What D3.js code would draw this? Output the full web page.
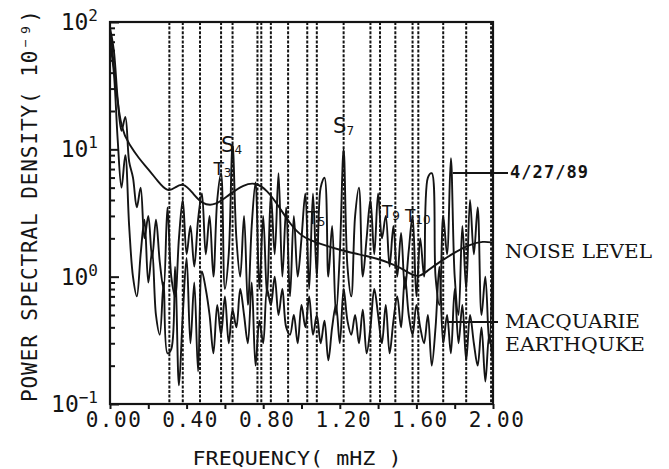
<!DOCTYPE html>
<html>
<head>
<meta charset="utf-8">
<script src="https://cdn.jsdelivr.net/npm/d3@7"></script>
<style>
  body { margin: 0; background: #fff; }
  svg { display: block; }
</style>
</head>
<body>
<svg></svg>
<script>
// Chart size
const W = 669, H = 469;

// Frequencies (mHz), sampled every 0.02
const freq = d3.range(0, 101).map(i => +(i * 0.02).toFixed(2));

// 4/27/89 spectrum
const event = [
    90, 60, 25, 14, 18, 8, 6, 3.5, 5, 2.0,
    3.0, 1.4, 2.8, 1.3, 0.8, 3.5, 1.0, 0.7, 2.0, 4.0,
    1.5, 2.5, 1.2, 2.8, 4.5, 1.5, 3.0, 1.0, 4.0, 6.5,
    0.8, 1.5, 11, 2.0, 1.0, 3.0, 0.6, 2.5, 5.5, 0.8,
    3.0, 0.7, 4.5, 1.5, 6.5, 1.0, 3.5, 0.7, 3.0, 1.0,
    2.0, 4.5, 0.8, 4.5, 1.0, 5.0, 6.0, 1.0, 2.5, 0.5,
    1.5, 10, 1.2, 0.7, 3.0, 5.0, 1.0, 2.0, 4.0, 1.5,
    4.5, 2.0, 3.0, 1.2, 2.5, 1.0, 2.2, 0.8, 1.6, 3.0,
    0.7, 2.0, 1.0, 6.0, 6.5, 1.0, 0.6, 3.0, 1.5, 8.5,
    1.0, 0.5, 2.5, 0.8, 4.0, 1.5, 3.5, 0.5, 1.0, 0.3,
    2.0
];

// Macquarie earthquake spectrum
const macquarie = [
    70, 40, 12, 5, 9, 2.5, 1.0, 0.7, 1.5, 2.8,
    0.9, 1.6, 0.5, 0.35, 0.9, 0.25, 0.27, 1.2, 0.14, 0.5,
    1.4, 0.3, 0.9, 0.18, 1.1, 0.8, 0.5, 0.25, 0.6, 0.35,
    0.7, 0.3, 0.55, 0.4, 0.8, 0.5, 0.3, 0.9, 0.2, 0.45,
    0.3, 0.8, 0.6, 1.0, 0.5, 0.8, 0.4, 0.35, 0.5, 0.3,
    0.6, 0.4, 0.7, 0.35, 0.5, 0.3, 0.45, 0.22, 0.4, 0.6,
    0.3, 0.8, 0.45, 0.35, 0.5, 0.3, 0.55, 0.25, 0.4, 0.8,
    0.5, 0.3, 0.6, 0.25, 0.45, 0.7, 0.4, 1.0, 0.5, 0.35,
    0.6, 0.4, 0.3, 0.5, 0.2, 0.4, 1.2, 0.3, 0.5, 0.25,
    0.8, 0.3, 0.6, 0.22, 0.5, 0.3, 0.2, 0.4, 0.15, 0.35,
    0.2
];

// Noise level curve
const noiseFreq = [0.005, 0.03, 0.06, 0.10, 0.15, 0.20, 0.25, 0.30, 0.34, 0.38,
    0.43, 0.48, 0.55, 0.62, 0.70, 0.76, 0.82, 0.88, 0.94, 1.00,
    1.10, 1.20, 1.30, 1.40, 1.46, 1.52, 1.58, 1.62, 1.66, 1.72,
    1.80, 1.88, 1.95, 2.00];
const noise = [80, 30, 14, 11, 8.5, 7.0, 5.6, 4.6, 5.0, 5.5,
    4.6, 3.7, 3.6, 4.4, 5.3, 5.5, 4.8, 3.6, 2.6, 2.05,
    1.8, 1.62, 1.5, 1.38, 1.28, 1.17, 1.02, 1.0, 1.12, 1.3,
    1.55, 1.8, 1.9, 1.85];

// Normal mode frequencies (dashed lines)
const modes = [0.31, 0.38, 0.47, 0.58, 0.64, 0.77, 0.79, 0.84, 0.93, 1.03,
    1.08, 1.22, 1.36, 1.41, 1.49, 1.58, 1.61, 1.74, 1.86, 1.99];

// Mode labels
const modeName = ["T", "S", "T", "S", "T", "T"];
const modeOrder = ["3", "4", "5", "7", "9", "10"];
const modeLabelFreq = [0.54, 0.58, 1.03, 1.165, 1.42, 1.54];
const modeLabelValue = [6.3, 9.5, 2.6, 13.4, 2.9, 2.7];

// Axis ticks
const xTickLabels = ["0.00", "0.40", "0.80", "1.20", "1.60", "2.00"];
const yExp = ["2", "1", "0", "-1"];

const margin = { top: 22, right: 176, bottom: 65, left: 110 };

const svg = d3.select("svg").attr("width", W).attr("height", H);

const x = d3.scaleLinear().domain([0, 2]).range([margin.left, W - margin.right]);
const y = d3.scaleLog().domain([0.1, 100]).range([H - margin.bottom, margin.top]);

const ink = "#141414";

svg.append("defs").append("clipPath").attr("id", "clip")
    .append("rect")
    .attr("x", x(0)).attr("y", y(100))
    .attr("width", x(2) - x(0)).attr("height", y(0.1) - y(100));

// Dashed mode lines
svg.append("g")
    .selectAll("line")
    .data(modes)
    .enter().append("line")
    .attr("x1", d => x(d)).attr("x2", d => x(d))
    .attr("y1", y(100)).attr("y2", y(0.1))
    .attr("stroke", ink)
    .attr("stroke-width", 2)
    .attr("stroke-dasharray", "3,1.6");

// Spectra
const line = d3.line()
    .x(d => x(d[0]))
    .y(d => y(d[1]))
    .curve(d3.curveCatmullRom.alpha(0.5));

const plot = svg.append("g").attr("clip-path", "url(#clip)");

plot.append("path")
    .datum(d3.zip(freq, macquarie))
    .attr("d", line)
    .attr("fill", "none")
    .attr("stroke", ink)
    .attr("stroke-width", 1.9);

plot.append("path")
    .datum(d3.zip(freq, event))
    .attr("d", line)
    .attr("fill", "none")
    .attr("stroke", ink)
    .attr("stroke-width", 1.9);

plot.append("path")
    .datum(d3.zip(noiseFreq, noise))
    .attr("d", d3.line().x(d => x(d[0])).y(d => y(d[1])).curve(d3.curveBasis))
    .attr("fill", "none")
    .attr("stroke", ink)
    .attr("stroke-width", 1.9);

// Frame
svg.append("rect")
    .attr("x", x(0)).attr("y", y(100))
    .attr("width", x(2) - x(0)).attr("height", y(0.1) - y(100))
    .attr("fill", "none")
    .attr("stroke", ink)
    .attr("stroke-width", 2.2);

// Y-axis ticks (inward)
const yAxis = d3.axisRight(y)
    .tickValues(d3.range(-1, 2).flatMap(e => d3.range(1, 10).map(m => m * Math.pow(10, e))).concat([100]))
    .tickSize(5)
    .tickFormat("");
const gy = svg.append("g")
    .attr("transform", "translate(" + x(0) + ",0)")
    .call(yAxis);
gy.select(".domain").remove();
gy.selectAll(".tick line")
    .attr("stroke", ink)
    .attr("stroke-width", 2)
    .attr("x2", d => Math.abs(Math.log10(d) - Math.round(Math.log10(d))) < 1e-9 ? 9 : 5);

// Y tick labels
const yLab = svg.append("g")
    .selectAll("text")
    .data(yExp)
    .enter().append("text")
    .attr("x", 98)
    .attr("y", d => y(Math.pow(10, +d)) + 8)
    .attr("text-anchor", "end")
    .attr("font-family", "DejaVu Sans Mono")
    .attr("font-size", 23)
    .attr("fill", ink);
yLab.append("tspan").text("10");
yLab.append("tspan")
    .attr("dy", -9)
    .attr("font-size", 16)
    .text(d => d.replace("-", "\u2212"));

// X-axis ticks (between labels)
const xAxis = d3.axisBottom(x)
    .tickValues(d3.range(0, 11).map(i => i * 0.2))
    .tickSize(5)
    .tickFormat("");
const gx = svg.append("g")
    .attr("transform", "translate(0," + y(0.1) + ")")
    .call(xAxis);
gx.select(".domain").remove();
gx.selectAll(".tick line").attr("stroke", ink).attr("stroke-width", 2);

// X tick labels
svg.append("g")
    .selectAll("text")
    .data(xTickLabels)
    .enter().append("text")
    .attr("x", d => x(+d) + 4)
    .attr("y", y(0.1) + 23)
    .attr("text-anchor", "middle")
    .attr("font-family", "DejaVu Sans Mono")
    .attr("font-size", 21)
    .attr("letter-spacing", 1.5)
    .attr("fill", ink)
    .text(d => d);

// Axis titles
svg.append("text")
    .attr("transform", "translate(37,206) rotate(-90)")
    .attr("text-anchor", "middle")
    .attr("font-family", "DejaVu Sans Mono")
    .attr("font-size", 21)
    .attr("fill", ink)
    .attr("textLength", 392)
    .attr("lengthAdjust", "spacing")
    .text("POWER SPECTRAL DENSITY( 10\u207B\u2079)");

svg.append("text")
    .attr("x", 297)
    .attr("y", 465)
    .attr("text-anchor", "middle")
    .attr("font-family", "DejaVu Sans Mono")
    .attr("font-size", 20)
    .attr("fill", ink)
    .attr("textLength", 209)
    .attr("lengthAdjust", "spacingAndGlyphs")
    .text("FREQUENCY( mHZ )");

// Mode labels
const ml = svg.append("g")
    .selectAll("text")
    .data(modeName)
    .enter().append("text")
    .attr("x", (d, i) => x(modeLabelFreq[i]))
    .attr("y", (d, i) => y(modeLabelValue[i]))
    .attr("font-family", "DejaVu Sans")
    .attr("font-size", (d, i) => d === "S" ? 21 : 17)
    .attr("fill", ink);
ml.append("tspan").text(d => d);
ml.append("tspan")
    .attr("font-size", 12)
    .attr("dy", 2)
    .text((d, i) => modeOrder[i]);

// Legend pointers and labels
svg.append("line")
    .attr("x1", x(1.79)).attr("x2", 508)
    .attr("y1", 173).attr("y2", 173)
    .attr("stroke", ink).attr("stroke-width", 1.8);
svg.append("line")
    .attr("x1", x(1.76)).attr("x2", 498)
    .attr("y1", 322).attr("y2", 322)
    .attr("stroke", ink).attr("stroke-width", 1.8);

svg.append("text")
    .attr("x", 510).attr("y", 178)
    .attr("font-family", "DejaVu Sans Mono")
    .attr("font-size", 17)
    .attr("font-weight", 700)
    .attr("textLength", 78)
    .attr("fill", ink)
    .text("4/27/89");

const serif = [["NOISE LEVEL", 258, 147], ["MACQUARIE", 328, 135], ["EARTHQUKE", 351, 140]];
svg.append("g")
    .selectAll("text")
    .data(serif)
    .enter().append("text")
    .attr("x", 505)
    .attr("y", d => d[1])
    .attr("font-family", "DejaVu Serif")
    .attr("font-size", 18)
    .attr("textLength", d => d[2])
    .attr("lengthAdjust", "spacingAndGlyphs")
    .attr("fill", ink)
    .text(d => d[0]);
</script>
</body>
</html>
